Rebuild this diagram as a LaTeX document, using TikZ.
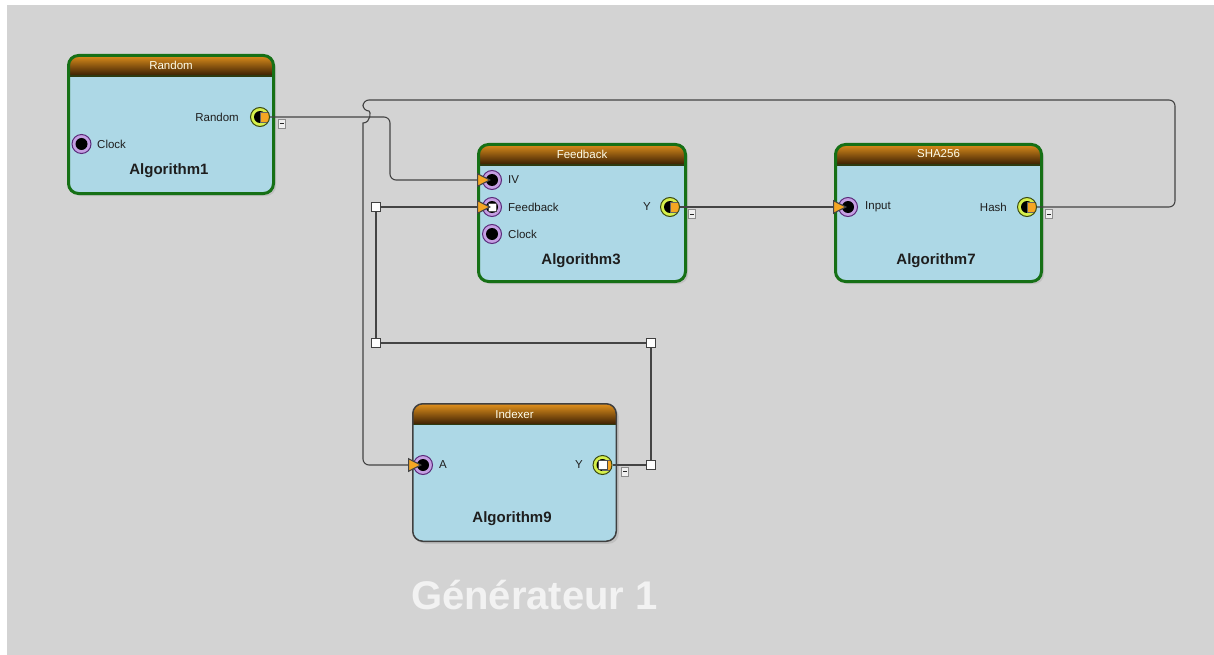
\documentclass[tikz,border=0pt]{standalone}
\usepackage{fontspec}
\setmainfont{Liberation Sans}
\usetikzlibrary{arrows.meta,shadows}
\definecolor{bgcol}{HTML}{D3D3D3}
\definecolor{blockblue}{HTML}{ADD8E6}
\definecolor{blockgreen}{HTML}{167016}
\definecolor{hdrtop}{HTML}{E0901C}
\definecolor{hdrbot}{HTML}{3E2204}
\definecolor{hdrline}{HTML}{2E3A10}
\definecolor{purplering}{HTML}{C59FE3}
\definecolor{purpleedge}{HTML}{5A2A7A}
\definecolor{greenring}{HTML}{D6F04C}
\definecolor{greenedge}{HTML}{3A4A10}
\definecolor{orangetip}{HTML}{F5A623}
\definecolor{wirecol}{HTML}{444444}
\definecolor{txtcol}{HTML}{1E1E1E}
\begin{document}
\begin{tikzpicture}[x=1pt,y=-1pt,
  block/.style={draw=blockgreen, line width=3pt, rounded corners=10pt, fill=blockblue,
    inner sep=0pt,
    drop shadow={shadow xshift=2.5pt, shadow yshift=-2.5pt, opacity=0.22},
    path picture={
      \foreach \i in {0,...,20}{
        \pgfmathsetmacro\pc{100-\i*5}
        \pgfmathsetmacro\ya{-\i}
        \pgfmathsetmacro\yb{-\i-1.2}
        \fill[hdrtop!\pc!hdrbot, sharp corners]
          ([yshift=\ya pt]path picture bounding box.north west) rectangle ([yshift=\yb pt]path picture bounding box.north east);
      }
      \draw[hdrline, line width=1.6pt, sharp corners]
        ([yshift=-20.8pt]path picture bounding box.north west) -- ([yshift=-20.8pt]path picture bounding box.north east);
    }},
  grayblock/.style={block, draw=black!75, line width=1.5pt},
  titletxt/.style={text=white!92!yellow, font=\fontsize{11.5}{13}\selectfont, inner sep=0pt},
  lbl/.style={text=txtcol, font=\fontsize{11.5}{13}\selectfont, inner sep=0pt},
  algname/.style={text=txtcol, font=\fontsize{15}{17}\selectfont\bfseries, inner sep=0pt},
  inport/.style={circle, minimum size=19pt, inner sep=0pt, draw=purpleedge, line width=1pt, fill=purplering,
    path picture={\fill[black] (path picture bounding box.center) circle (6pt);}},
  inportw/.style={inport,
    path picture={\fill[black] (path picture bounding box.center) circle (6pt);
      \filldraw[fill=white, draw=black!70, line width=0.5pt] ([shift={(-4pt,-4pt)}]path picture bounding box.center) rectangle ++(8pt,8pt);}},
  outport/.style={circle, minimum size=19pt, inner sep=0pt, draw=greenedge, line width=1pt, fill=greenring,
    path picture={\fill[black] (path picture bounding box.center) circle (6pt);
      \filldraw[fill=orangetip, draw=black!60, line width=0.5pt] ([shift={(0pt,-5pt)}]path picture bounding box.center) rectangle ++(9pt,10pt);}},
  outportw/.style={outport,
    path picture={\fill[black] (path picture bounding box.center) circle (6pt);
      \filldraw[fill=orangetip, draw=black!60, line width=0.5pt] ([shift={(0pt,-5pt)}]path picture bounding box.center) rectangle ++(10pt,10pt);
      \filldraw[fill=white, draw=black!70, line width=0.5pt] ([shift={(-4.5pt,-4.5pt)}]path picture bounding box.center) rectangle ++(9pt,9pt);}},
  minusbox/.style={draw=black!45, fill=black!6, minimum width=7pt, minimum height=9pt, inner sep=0pt, line width=0.6pt,
    path picture={\draw[black!85, line width=0.8pt] ([xshift=-2pt]path picture bounding box.center) -- ([xshift=2pt]path picture bounding box.center);}},
  waypt/.style={draw=black!75, fill=white, minimum size=8.5pt, inner sep=0pt, line width=0.8pt},
  wire/.style={draw=wirecol, line width=1.1pt, rounded corners=6pt},
  inarrow/.style={-{Triangle[length=14pt,width=14pt,fill=orangetip]}},
  gen/.style={text=white!95!black, font=\fontsize{40}{44}\selectfont\bfseries, inner sep=0pt}
]
\useasboundingbox (0,0) rectangle (1214,655);
\fill[bgcol] (7,5) rectangle (1214,655);

% ---- blocks ----
\node[block, minimum width=205pt, minimum height=138pt] (alg1) at (171,124.5) {};
\node[block, minimum width=207pt, minimum height=137pt] (alg3) at (582,213) {};
\node[block, minimum width=206pt, minimum height=137pt] (alg7) at (938.5,213) {};
\node[grayblock, minimum width=203.5pt, minimum height=137.5pt] (alg9) at (514.5,472.5) {};

% ---- titles ----
\node[titletxt] (t1) at (171,65.5) {Random};
\node[titletxt] (t3) at (582,154) {Feedback};
\node[titletxt] (t7) at (938.5,154) {SHA256};
\node[titletxt] (t9) at (514.5,414) {Indexer};

% ---- algorithm names ----
\node[algname] (n1) at (169,170.5) {Algorithm1};
\node[algname] (n3) at (581,261) {Algorithm3};
\node[algname] (n7) at (936,261) {Algorithm7};
\node[algname] (n9) at (512,519) {Algorithm9};

% ---- ports ----
\node[outport] (a1out) at (260,117) {};
\node[inport] (a1clk) at (81.5,144) {};
\node[inport] (a3iv) at (492,180) {};
\node[inportw] (a3fb) at (492,207) {};
\node[inport] (a3clk) at (492,234) {};
\node[outport] (a3y) at (670,207) {};
\node[inport] (a7in) at (848,207) {};
\node[outport] (a7out) at (1027,207) {};
\node[inport] (a9a) at (423,465) {};
\node[outportw] (a9y) at (602.5,465) {};

% ---- port labels ----
\node[lbl, anchor=east] (l1r) at (239,117) {Random};
\node[lbl, anchor=west] (l1c) at (97,144) {Clock};
\node[lbl, anchor=west] (l3iv) at (508,180) {IV};
\node[lbl, anchor=west] (l3fb) at (508,207) {Feedback};
\node[lbl, anchor=west] (l3c) at (508,234) {Clock};
\node[lbl, anchor=east] (l3y) at (651,207) {Y};
\node[lbl, anchor=west] (l7in) at (865,207) {Input};
\node[lbl, anchor=east] (l7h) at (1007,207) {Hash};
\node[lbl, anchor=west] (l9a) at (439,465) {A};
\node[lbl, anchor=east] (l9y) at (583,465) {Y};

% ---- minus boxes ----
\node[minusbox] (m1) at (281.5,123.5) {};
\node[minusbox] (m3) at (691.5,214) {};
\node[minusbox] (m7) at (1049,214) {};
\node[minusbox] (m9) at (625,471.5) {};

% ---- waypoints ----
\node[waypt] (fw1) at (376,207) {};
\node[waypt] (fw2) at (376,343) {};
\node[waypt] (fw3) at (651,343) {};
\node[waypt] (fw4) at (651,465) {};

% ---- wires ----
\draw[wire, inarrow] (a1out.east) -- (390,117) -- (390,180) -- ([xshift=-1pt]a3iv.center);
\draw[wire, inarrow] (a7out.east) -- (1175,207) -- (1175,100) -- (363,100) -- (363,111)
  [sharp corners] .. controls (371,111) and (371,123) .. (363,123)
  [rounded corners=6pt] -- (363,465) -- ([xshift=-1pt]a9a.center);
\draw[wire, inarrow] (a3y.east) -- ([xshift=-1pt]a7in.center);
\draw[wire] (a9y.east) -- (fw4);
\draw[wire] (fw4) -- (fw3);
\draw[wire] (fw3) -- (fw2);
\draw[wire] (fw2) -- (fw1);
\draw[wire, inarrow] (fw1) -- ([xshift=-1pt]a3fb.center);

% ---- caption ----
\node[gen, anchor=base] (gen) at (534.5,609) {Générateur 1};
\end{tikzpicture}
\end{document}
